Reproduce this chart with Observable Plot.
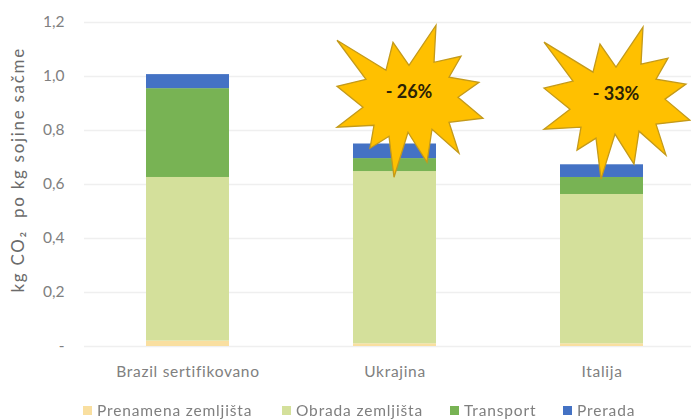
<!DOCTYPE html>
<html><head><meta charset="utf-8">
<script src="https://cdn.jsdelivr.net/npm/d3@7"></script>
<script src="https://cdn.jsdelivr.net/npm/@observablehq/plot@0.6"></script>
<style>
html,body{margin:0;padding:0;background:#fff;overflow:hidden}
#c{width:691px;height:419px;position:relative;font-family:Lato,sans-serif;filter:blur(0.6px)}
#legend{position:absolute;left:0;top:402px;width:691px;height:17px;font-size:15.5px;letter-spacing:0.85px;color:#7f7f7f;line-height:17px}
#legend span{position:absolute;white-space:nowrap}
#legend i{position:absolute;width:9px;height:9px;top:4px}
</style></head><body><div id="c"></div>
<script>
const countries = ["Brazil sertifikovano","Ukrajina","Italija"];
const stages = ["Prenamena zemljišta","Obrada zemljišta","Transport","Prerada"];
const prenamena = [0.02,0.01,0.01];
const obrada = [0.606,0.638,0.553];
const transport = [0.329,0.048,0.063];
const prerada = [0.052,0.054,0.047];
const colors = ["#f9dfa0","#d4e09b","#78b354","#4472c4"];
const yTicks = [0,0.2,0.4,0.6,0.8,1.0,1.2];
const yTickLabels = ["-","0,2","0,4","0,6","0,8","1,0","1,2"];
const burstCountries = ["Ukrajina","Italija"];
const burstLabels = ["- 26%","- 33%"];
const burstLevels = [0.912,0.905];
const yTitle = "kg CO₂  po kg sojine sačme";

// Outline of the burst annotation, as a dot symbol (unit outline relative to its centre)
const burstOutline = [[-72,-60],[-23,-30],[-16,-58],[0,-35],[27,-75],[25,-38],[52,-44],[40,-23],[70,-18],[49,-3],[74,18],[40,22],[50,53],[23,29],[18,62],[-1,32],[-15,77],[-20,36],[-39,48],[-35,25],[-72,27],[-46,7],[-72,-14],[-43,-21]];
const burstSymbol = {draw(ctx,size){
  const k = Math.sqrt(size/Math.PI)/70;
  burstOutline.forEach(([a,b],i)=> i? ctx.lineTo(a*k,b*k): ctx.moveTo(a*k,b*k));
  ctx.closePath();
}};

const series = [prenamena,obrada,transport,prerada];
const rows = stages.flatMap((s,i)=>countries.map((c,j)=>({country:c,stage:s,value:series[i][j]})));
const bursts = burstCountries.map((c,i)=>({country:c,label:burstLabels[i],level:burstLevels[i]}));

const chart = Plot.plot({
  width:691,height:400,marginLeft:84,marginRight:0,marginTop:22,marginBottom:54,
  style:{fontFamily:"Lato,sans-serif",background:"#fff"},
  x:{type:"band",domain:countries,range:[84,705],paddingInner:0.6,paddingOuter:0.3,label:null},
  y:{domain:[0,1.2],range:[346,22],label:null},
  color:{domain:stages,range:colors},
  marks:[
    Plot.ruleY(yTicks,{stroke:"#efefef",strokeWidth:1.4}),
    Plot.barY(rows,Plot.stackY({x:"country",y:"value",fill:"stage",order:stages})),
    Plot.dot(bursts,{x:"country",y:"level",dx:14,r:70,symbol:burstSymbol,fill:"#ffc000",stroke:"#c49a1a",strokeWidth:1.3}),
    Plot.text(bursts,{x:"country",y:"level",dx:14,dy:-8,text:"label",fontSize:18,fontWeight:"bold",fill:"#2b2206"}),
    Plot.axisY({ticks:yTicks,tickFormat:(d)=>yTickLabels[yTicks.indexOf(d)],tickSize:0,tickPadding:20,fontSize:15.5,color:"#808080",label:null}),
    Plot.axisX({tickSize:0,tickPadding:19,fontSize:15.5,color:"#808080",label:null}),
    Plot.text([yTitle],{frameAnchor:"left",dx:-66,rotate:-90,fontSize:17,fill:"#6b6b6b",text:d=>d,y:()=>0.2})
  ]
});
const host=document.getElementById("c");
host.appendChild(chart);
chart.style.position="absolute";chart.style.left="0";chart.style.top="0";
d3.select(chart).selectAll("text").each(function(){
  const t=this.textContent;
  if(t===yTitle) this.style.letterSpacing="1.7px";
  else if(countries.includes(t)) this.style.letterSpacing="0.7px";
});

const legend=document.createElement("div");legend.id="legend";
const swatchLeft=[83,282,450,563];
stages.forEach((s,i)=>{
  const sw=document.createElement("i");sw.style.left=swatchLeft[i]+"px";sw.style.background=colors[i];legend.appendChild(sw);
  const t=document.createElement("span");t.textContent=s;t.style.left=(swatchLeft[i]+14)+"px";legend.appendChild(t);
});
host.appendChild(legend);
</script></body></html>
